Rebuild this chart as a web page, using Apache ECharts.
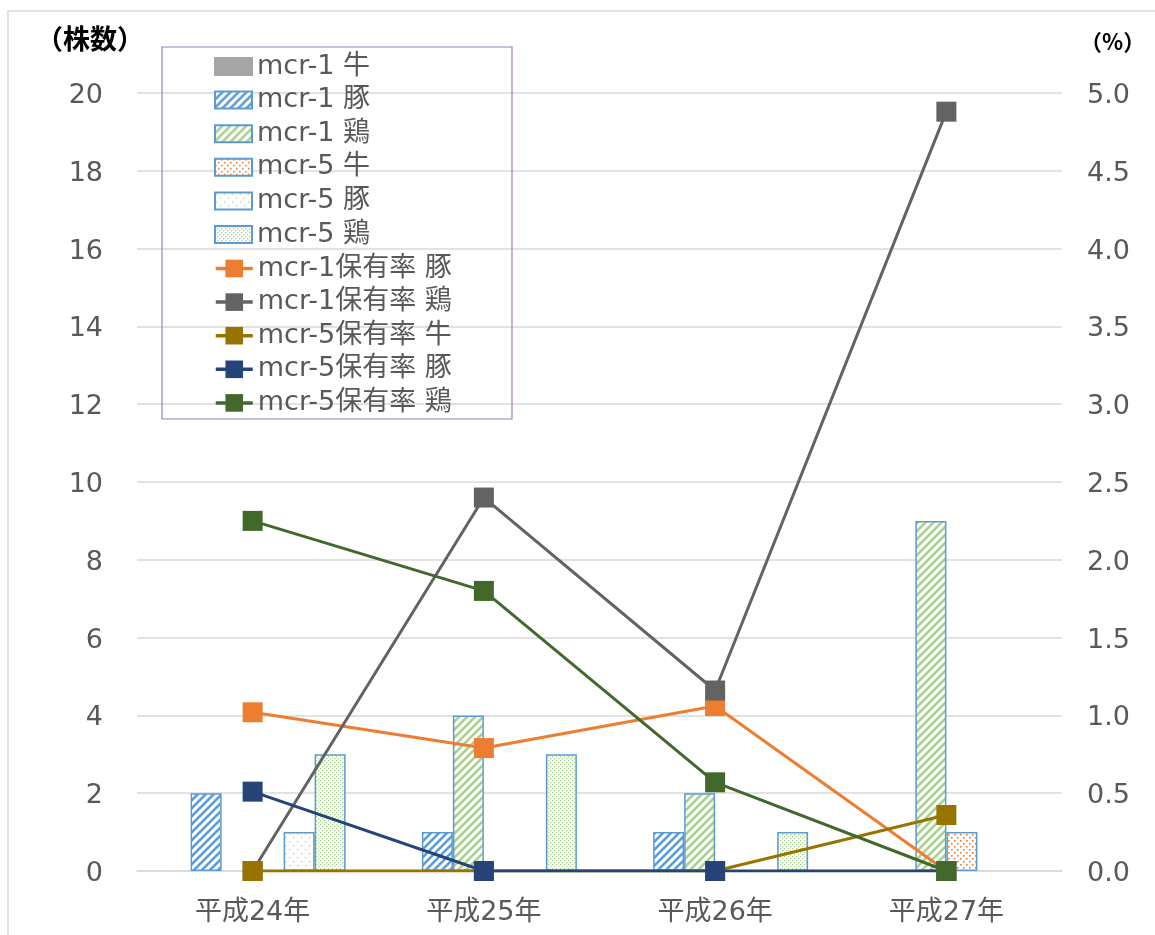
<!DOCTYPE html>
<html>
<head>
<meta charset="utf-8">
<script src="https://cdn.jsdelivr.net/npm/echarts@6/dist/echarts.min.js"></script>
<style>
  html, body { margin: 0; padding: 0; background: #fff; }
  #chart { width: 1155px; height: 935px; }
</style>
</head>
<body>
<div id="chart"></div>
<script>
// Fiscal years
const years = ['平成24年', '平成25年', '平成26年', '平成27年'];

// Isolate counts (left axis)
const mcr1Cattle  = [0, 0, 0, 0];
const mcr1Pig     = [2, 1, 1, 0];
const mcr1Chicken = [0, 4, 2, 9];
const mcr5Cattle  = [0, 0, 0, 1];
const mcr5Pig     = [1, 0, 0, 0];
const mcr5Chicken = [3, 3, 1, 0];

// Carriage rates in % (right axis)
const rateMcr1Pig     = [1.02, 0.79, 1.06, 0.0];
const rateMcr1Chicken = [0.0, 2.40, 1.16, 4.88];
const rateMcr5Cattle  = [0.0, 0.0, 0.0, 0.36];
const rateMcr5Pig     = [0.51, 0.0, 0.0, 0.0];
const rateMcr5Chicken = [2.25, 1.80, 0.57, 0.0];

// Axis ticks
const leftTicks = { min: 0, max: 20, step: 2 };
const rightTicks = { min: 0, max: 5, step: 0.5 };

const FONT = '"DejaVu Sans", "Noto Sans CJK JP", sans-serif';
const CJK = '"Noto Sans CJK JP", sans-serif';
const BAR_EDGE = '#5B9BD5';
const TEXT_GREY = '#595959';

// Fill patterns drawn on small tiles
function tile(size, draw) {
  const c = document.createElement('canvas');
  c.width = size; c.height = size;
  const g = c.getContext('2d');
  g.fillStyle = '#ffffff';
  g.fillRect(0, 0, size, size);
  draw(g, size);
  return { image: c, repeat: 'repeat' };
}
function stripes(color) {
  return tile(8, (g, s) => {
    g.strokeStyle = color;
    g.lineWidth = 2.6;
    g.lineCap = 'square';
    for (let k = -1; k <= 1; k++) {
      g.beginPath();
      g.moveTo(k * s, s);
      g.lineTo(k * s + s, 0);
      g.stroke();
    }
  });
}
function dots(color, size, pts, r) {
  return tile(size, (g) => {
    g.fillStyle = color;
    pts.forEach(p => g.fillRect(p[0], p[1], r, r));
  });
}

const patMcr1Pig = stripes('#5B9BD5');
const patMcr1Chicken = stripes('#A9D18E');
const patMcr5Cattle = dots('#ED7D31', 6, [[0, 0], [3, 3]], 1.6);
const patMcr5Pig = dots('#A9D18E', 8, [[1, 1], [5, 5]], 1.3);
const patMcr5Chicken = dots('#A9D18E', 4, [[0, 0], [2, 2]], 1.3);

// zero counts are not drawn as bars
const nz = arr => arr.map(v => (v === 0 ? '-' : v));

function barSeries(name, data, fill, edge) {
  return {
    name, type: 'bar', yAxisIndex: 0,
    data: nz(data),
    barWidth: 31, barGap: '0%',
    itemStyle: { color: fill, borderColor: edge, borderWidth: 1.5 },
    emphasis: { disabled: true }
  };
}
function lineSeries(name, data, color) {
  return {
    name, type: 'line', yAxisIndex: 1,
    data,
    symbol: 'rect', symbolSize: 20,
    lineStyle: { color, width: 3 },
    itemStyle: { color },
    emphasis: { disabled: true }
  };
}

const barList = [
  barSeries('mcr-1 牛', mcr1Cattle, '#A5A5A5', '#A5A5A5'),
  barSeries('mcr-1 豚', mcr1Pig, patMcr1Pig, BAR_EDGE),
  barSeries('mcr-1 鶏', mcr1Chicken, patMcr1Chicken, BAR_EDGE),
  barSeries('mcr-5 牛', mcr5Cattle, patMcr5Cattle, BAR_EDGE),
  barSeries('mcr-5 豚', mcr5Pig, patMcr5Pig, BAR_EDGE),
  barSeries('mcr-5 鶏', mcr5Chicken, patMcr5Chicken, BAR_EDGE)
];
const lineList = [
  lineSeries('mcr-1保有率 豚', rateMcr1Pig, '#ED7D31'),
  lineSeries('mcr-1保有率 鶏', rateMcr1Chicken, '#636363'),
  lineSeries('mcr-5保有率 牛', rateMcr5Cattle, '#997300'),
  lineSeries('mcr-5保有率 豚', rateMcr5Pig, '#264478'),
  lineSeries('mcr-5保有率 鶏', rateMcr5Chicken, '#43682B')
];
const series = barList.concat(lineList);

const legendText = { color: TEXT_GREY, fontSize: 27, lineHeight: 26, fontFamily: FONT };

// tick numbers sit slightly below their gridline
const tickRich = { t: { color: TEXT_GREY, fontSize: 27, fontFamily: FONT, padding: [6, 0, 0, 0] } };

const chart = echarts.init(document.getElementById('chart'), null, { renderer: 'canvas' });
chart.setOption({
  animation: false,
  backgroundColor: '#ffffff',
  textStyle: { fontFamily: FONT },
  grid: { left: 137, right: 93, top: 93, bottom: 64, containLabel: false },
  xAxis: {
    type: 'category',
    data: years,
    axisLine: { show: true, lineStyle: { color: '#D9D9D9', width: 1.5 } },
    axisTick: { show: false },
    axisLabel: { color: TEXT_GREY, fontSize: 27, fontFamily: FONT, margin: 28 }
  },
  yAxis: [
    {
      type: 'value', min: leftTicks.min, max: leftTicks.max, interval: leftTicks.step,
      axisLine: { show: false }, axisTick: { show: false },
      splitLine: { lineStyle: { color: '#D9D9D9', width: 1.5 } },
      axisLabel: { margin: 34, rich: tickRich, formatter: v => '{t|' + v + '}' }
    },
    {
      type: 'value', min: rightTicks.min, max: rightTicks.max, interval: rightTicks.step,
      axisLine: { show: false }, axisTick: { show: false },
      splitLine: { show: false },
      axisLabel: { margin: 25, rich: tickRich, formatter: v => '{t|' + v.toFixed(1) + '}' }
    }
  ],
  legend: [
    {
      orient: 'vertical', left: 214, top: 53, padding: 0,
      itemWidth: 37, itemHeight: 17, itemGap: 6.6,
      icon: 'rect',
      textStyle: legendText,
      data: barList.map(s => s.name)
    },
    {
      orient: 'vertical', left: 214, top: 255, padding: 0,
      itemWidth: 37, itemHeight: 22, itemGap: 6.6,
      lineStyle: { width: 3.5 },
      textStyle: legendText,
      data: lineList.map(s => s.name)
    }
  ],
  graphic: [
    { type: 'rect', shape: { x: 8, y: 11, width: 1160, height: 940 },
      style: { fill: 'none', stroke: '#D9D9D9', lineWidth: 1.5 }, silent: true, z: -1 },
    { type: 'rect', shape: { x: 162, y: 47, width: 350, height: 372 },
      style: { fill: 'none', stroke: '#9E7CC1', lineWidth: 1.2 }, silent: true, z: 5 },
    { type: 'text', left: 36, top: 25,
      style: { text: '（株数）', fill: '#000000', font: 'bold 27px ' + CJK } },
    { type: 'text', left: 1080, top: 31,
      style: { text: '（%）', fill: '#000000', font: 'bold 22px ' + CJK } }
  ],
  series
});
</script>
</body>
</html>
